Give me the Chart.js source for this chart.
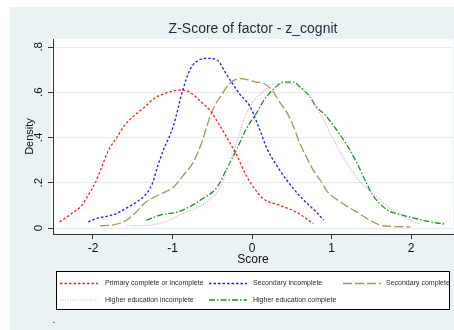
<!DOCTYPE html>
<html>
<head>
<meta charset="utf-8">
<script src="https://cdn.jsdelivr.net/npm/chart.js@4/dist/chart.umd.min.js"></script>
<style>
  html, body { margin: 0; padding: 0; background: #ffffff; }
  canvas { display: block; }
</style>
</head>
<body>
<canvas id="chart" width="454" height="330"></canvas>
<script>
// Kernel density of the cognitive z-score by education level
const chartTitle = 'Z-Score of factor - z_cognit';
const xAxisTitle = 'Score';
const yAxisTitle = 'Density';
const footnote = '.';

const xTicks = [-2, -1, 0, 1, 2];
const xTickLabels = ['-2', '-1', '0', '1', '2'];
const yTicks = [0, 0.2, 0.4, 0.6, 0.8];
const yTickLabels = ['0', '.2', '.4', '.6', '.8'];

const seriesNames = [
  'Primary complete or incomplete',
  'Secondary incomplete',
  'Secondary complete',
  'Higher education incomplete',
  'Higher education complete'
];

const primaryX = [-2.42, -2.26, -2.14, -2.06, -1.97, -1.89, -1.81, -1.7, -1.6, -1.47, -1.35, -1.22, -1.09, -0.9, -0.78, -0.65, -0.53, -0.4, -0.3, -0.19, -0.07, 0.04, 0.14, 0.35, 0.56, 0.77];
const primaryY = [0.027, 0.066, 0.10, 0.146, 0.20, 0.27, 0.34, 0.40, 0.455, 0.50, 0.535, 0.575, 0.595, 0.61, 0.60, 0.56, 0.52, 0.45, 0.39, 0.32, 0.23, 0.17, 0.13, 0.10, 0.07, 0.02];

const secIncX = [-2.06, -1.94, -1.81, -1.69, -1.58, -1.45, -1.32, -1.25, -1.18, -1.12, -0.99, -0.87, -0.78, -0.68, -0.55, -0.43, -0.34, -0.25, -0.15, -0.03, 0.08, 0.19, 0.35, 0.44, 0.63, 0.81, 0.9];
const secIncY = [0.027, 0.044, 0.053, 0.066, 0.088, 0.115, 0.155, 0.20, 0.28, 0.34, 0.45, 0.61, 0.70, 0.74, 0.75, 0.74, 0.69, 0.64, 0.59, 0.54, 0.45, 0.35, 0.255, 0.21, 0.13, 0.07, 0.035];

const secCompX = [-1.91, -1.76, -1.6, -1.47, -1.35, -1.25, -1.09, -0.99, -0.87, -0.74, -0.63, -0.55, -0.47, -0.38, -0.28, -0.15, -0.05, 0.05, 0.14, 0.25, 0.35, 0.44, 0.52, 0.6, 0.69, 0.77, 0.88, 0.96, 1.04, 1.11, 1.32, 1.48, 1.65, 1.99];
const secCompY = [0.01, 0.013, 0.03, 0.066, 0.11, 0.133, 0.16, 0.18, 0.23, 0.29, 0.38, 0.47, 0.54, 0.59, 0.64, 0.66, 0.655, 0.645, 0.64, 0.61, 0.555, 0.51, 0.45, 0.375, 0.31, 0.256, 0.20, 0.155, 0.133, 0.115, 0.07, 0.035, 0.01, 0.005];

const highIncX = [-1.57, -1.3, -1.07, -0.9, -0.69, -0.53, -0.4, -0.3, -0.19, -0.11, 0.0, 0.13, 0.26, 0.44, 0.6, 0.71, 0.81, 0.9, 0.98, 1.07, 1.17, 1.27, 1.4, 1.57, 1.72, 1.9, 2.09];
const highIncY = [0.01, 0.012, 0.03, 0.06, 0.09, 0.125, 0.18, 0.27, 0.38, 0.47, 0.55, 0.60, 0.635, 0.64, 0.62, 0.59, 0.53, 0.48, 0.42, 0.36, 0.30, 0.245, 0.19, 0.137, 0.09, 0.05, 0.02];

const highCompX = [-1.33, -1.12, -0.94, -0.78, -0.62, -0.44, -0.32, -0.19, -0.07, 0.06, 0.16, 0.29, 0.39, 0.52, 0.6, 0.73, 0.81, 0.92, 1.02, 1.13, 1.23, 1.33, 1.41, 1.51, 1.7, 1.86, 2.03, 2.2, 2.43];
const highCompY = [0.035, 0.06, 0.07, 0.095, 0.13, 0.18, 0.26, 0.35, 0.44, 0.51, 0.57, 0.62, 0.645, 0.645, 0.625, 0.58, 0.535, 0.50, 0.455, 0.40, 0.345, 0.28, 0.22, 0.15, 0.08, 0.06, 0.045, 0.03, 0.017];

const FONT = "'Liberation Sans', Arial, sans-serif";
const toPoints = (xs, ys) => xs.map((x, i) => ({ x: x, y: ys[i] }));

function makeSeries(name, xs, ys, color, dash, width) {
  return {
    label: name,
    data: toPoints(xs, ys),
    borderColor: color,
    borderDash: dash,
    borderWidth: width,
    pointRadius: 0,
    fill: false,
    cubicInterpolationMode: 'monotone'
  };
}

const datasets = [
  makeSeries(seriesNames[0], primaryX, primaryY, '#ff1a1a', [2.5, 2], 1.3),
  makeSeries(seriesNames[1], secIncX, secIncY, '#1a1aff', [2.5, 2], 1.3),
  makeSeries(seriesNames[2], secCompX, secCompY, '#a8925c', [9, 3], 1.3),
  makeSeries(seriesNames[3], highIncX, highIncY, '#d6a2de', [1, 1.5], 1.2),
  makeSeries(seriesNames[4], highCompX, highCompY, '#1f8c1f', [6, 2, 1.5, 2], 1.3)
];

// legend cells: [row, column]
const legendCells = [[0, 0], [0, 1], [0, 2], [1, 0], [1, 1]];

const framePlugin = {
  id: 'frame',
  beforeDraw(chart) {
    const ctx = chart.ctx;
    const a = chart.chartArea;
    ctx.save();
    ctx.fillStyle = '#eaf2f3';
    ctx.fillRect(10, 7, 444, 323);
    ctx.fillStyle = '#ffffff';
    ctx.fillRect(a.left - 2, a.top, a.right - a.left + 2, a.bottom - a.top);
    ctx.restore();
  },
  afterDraw(chart) {
    const ctx = chart.ctx;
    const a = chart.chartArea;
    const xs = chart.scales.x;
    const ys = chart.scales.y;
    ctx.save();

    // title
    ctx.fillStyle = '#1d2b3a';
    ctx.font = '14px ' + FONT;
    ctx.textAlign = 'center';
    ctx.textBaseline = 'middle';
    ctx.fillText(chartTitle, (a.left + a.right) / 2, 29);

    // x tick labels and title
    ctx.fillStyle = '#111111';
    ctx.font = '12px ' + FONT;
    xTicks.forEach((v, i) => {
      ctx.fillText(xTickLabels[i], xs.getPixelForValue(v), 249);
    });
    ctx.fillText(xAxisTitle, (a.left + a.right) / 2, 260);

    // y tick labels, rotated
    ctx.font = '11.5px ' + FONT;
    yTicks.forEach((v, i) => {
      ctx.save();
      ctx.translate(39, ys.getPixelForValue(v));
      ctx.rotate(-Math.PI / 2);
      ctx.fillText(yTickLabels[i], 0, 0);
      ctx.restore();
    });
    ctx.save();
    ctx.font = '11px ' + FONT;
    ctx.translate(30, (a.top + a.bottom) / 2);
    ctx.rotate(-Math.PI / 2);
    ctx.fillText(yAxisTitle, 0, 0);
    ctx.restore();

    // legend box
    const box = { left: 56.5, top: 271.5, right: 449.5, bottom: 309.5 };
    ctx.fillStyle = '#ffffff';
    ctx.fillRect(box.left, box.top, box.right - box.left, box.bottom - box.top);
    ctx.save();
    ctx.beginPath();
    ctx.rect(box.left, box.top, box.right - box.left, box.bottom - box.top);
    ctx.clip();
    const colSample = [60, 209, 343];
    const colText = [105, 253, 386];
    const rowY = [283.5, 300];
    ctx.font = '7px ' + FONT;
    ctx.textAlign = 'left';
    ctx.textBaseline = 'middle';
    chart.data.datasets.forEach((ds, i) => {
      const [r, c] = legendCells[i];
      const y = rowY[r];
      ctx.save();
      ctx.strokeStyle = ds.borderColor;
      ctx.lineWidth = ds.borderWidth;
      ctx.setLineDash(ds.borderDash);
      ctx.beginPath();
      ctx.moveTo(colSample[c], y);
      ctx.lineTo(colSample[c] + 38, y);
      ctx.stroke();
      ctx.restore();
      ctx.fillStyle = '#2a2a2a';
      ctx.fillText(ds.label, colText[c], y);
    });
    ctx.restore();
    ctx.strokeStyle = '#000000';
    ctx.lineWidth = 1;
    ctx.strokeRect(box.left, box.top, box.right - box.left, box.bottom - box.top);

    // note below the legend
    ctx.fillStyle = '#111111';
    ctx.font = '10px ' + FONT;
    ctx.fillText(footnote, 54, 320);

    ctx.restore();
  }
};

new Chart(document.getElementById('chart'), {
  type: 'line',
  data: { datasets: datasets },
  options: {
    responsive: false,
    animation: false,
    devicePixelRatio: 1,
    layout: { padding: { left: 53, right: 1, top: 39, bottom: 96 } },
    plugins: { legend: { display: false }, tooltip: { enabled: false }, title: { display: false } },
    scales: {
      x: {
        type: 'linear',
        min: -2.503,
        max: 2.528,
        afterFit(scale) { scale.height = 0; },
        afterBuildTicks(scale) { scale.ticks = xTicks.map(v => ({ value: v })); },
        ticks: { display: false },
        grid: { drawOnChartArea: false, drawTicks: true, tickLength: 5, tickColor: '#333333', tickWidth: 1 },
        border: { display: true, color: '#333333', width: 1 }
      },
      y: {
        type: 'linear',
        min: -0.0265,
        max: 0.8354,
        afterFit(scale) { scale.width = 0; },
        afterBuildTicks(scale) { scale.ticks = yTicks.map(v => ({ value: v })); },
        ticks: { display: false },
        grid: { color: '#e4eced', lineWidth: 1, drawTicks: true, tickLength: 5, tickColor: '#333333', tickWidth: 1 },
        border: { display: true, color: '#333333', width: 1 }
      }
    }
  },
  plugins: [framePlugin]
});
</script>
</body>
</html>
